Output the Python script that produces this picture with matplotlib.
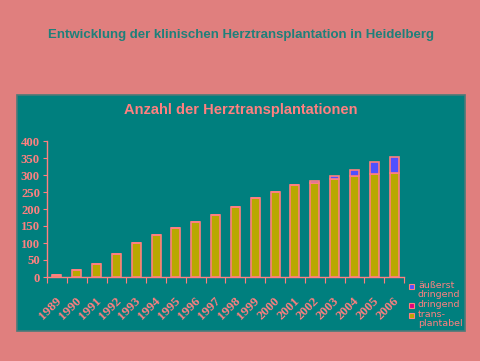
import matplotlib
matplotlib.use("Agg")
import matplotlib.pyplot as plt
from matplotlib.patches import Rectangle
import numpy as np

years = ["1989", "1990", "1991", "1992", "1993", "1994", "1995", "1996", "1997",
         "1998", "1999", "2000", "2001", "2002", "2003", "2004", "2005", "2006"]
transplantabel = [5, 20, 37, 67, 99, 123, 143, 161, 181,
                  205, 231, 249, 270, 276, 287, 296, 304, 307]
dringend = [0, 0, 0, 0, 0, 0, 0, 0, 0,
            0, 0, 0, 0, 0, 0, 0, 0, 0]
aeusserst = [0, 0, 0, 0, 0, 0, 0, 0, 0,
             0, 0, 0, 0, 5, 9, 18, 33, 45]
yticks = [0, 50, 100, 150, 200, 250, 300, 350, 400]
legend_labels = ["äußerst\ndringend", "dringend", "trans-\nplantabel"]

BG = "#e07f7e"
TEAL = "#007f7e"
SALMON = "#ff8080"
OLIVE = "#b8a800"
BLUE = "#5050ff"
MAGENTA = "#e0007f"

W, H = 480, 361
fig = plt.figure(figsize=(4.8, 3.61), dpi=100, facecolor=BG)

# teal panel
fig.patches.append(Rectangle((17 / W, 1 - 331 / H), 448 / W, 236 / H,
                             transform=fig.transFigure, facecolor=TEAL,
                             edgecolor="#4a7a78", linewidth=1.2, zorder=-5))

fig.text(241 / W, 1 - 35 / H, "Entwicklung der klinischen Herztransplantation in Heidelberg",
         ha="center", va="center", color="#1f807a", fontsize=9.5,
         fontweight="bold", family="Liberation Sans")
fig.text(241 / W, 1 - 110 / H, "Anzahl der Herztransplantationen",
         ha="center", va="center", color=SALMON, fontsize=10.5,
         fontweight="bold", family="Liberation Sans")

ax = fig.add_axes([47 / W, 1 - 277 / H, 357 / W, 136 / H])
ax.set_zorder(2)
ax.set_facecolor("none")
x = np.arange(len(years))
t = np.array(transplantabel)
d = np.array(dringend)
a = np.array(aeusserst)
bw = 0.45
ax.bar(x, t, width=bw, color=OLIVE, edgecolor=SALMON, linewidth=1.2)
ax.bar(x, d, width=bw, bottom=t, color=MAGENTA, edgecolor=SALMON, linewidth=1.2)
ax.bar(x, a, width=bw, bottom=t + d, color=BLUE, edgecolor=SALMON, linewidth=1.2)

ax.set_xlim(-0.5, len(years) - 0.5)
ax.set_ylim(0, 400)
for s in ["top", "right"]:
    ax.spines[s].set_visible(False)
for s in ["left", "bottom"]:
    ax.spines[s].set_color(SALMON)
    ax.spines[s].set_linewidth(1.0)

ax.set_yticks(yticks)
ax.set_yticklabels([str(v) for v in yticks], color=SALMON, fontsize=9.2,
                   fontweight="bold", family="Liberation Serif")
ax.tick_params(axis="y", direction="out", length=3, color=SALMON, pad=2)

ax.set_xticks(np.arange(len(years) + 1) - 0.5, minor=False)
ax.set_xticklabels([])
ax.tick_params(axis="x", direction="out", length=4, color=SALMON)
for i, yr in enumerate(years):
    ax.annotate(yr, xy=(i, 0), xycoords=("data", "data"),
                xytext=(-1, -13), textcoords="offset points",
                ha="right", va="top", rotation=45, rotation_mode="anchor",
                color=SALMON, fontsize=9.5, fontweight="bold",
                family="Liberation Serif", annotation_clip=False)

# legend
leg_items = [(286, BLUE, legend_labels[0]), (305, MAGENTA, legend_labels[1]),
             (315, OLIVE, legend_labels[2])]
for yy, col, lab in leg_items:
    fig.patches.append(Rectangle((409 / W, 1 - (yy + 2.5) / H), 5 / W, 5 / H,
                                 transform=fig.transFigure, facecolor=col,
                                 edgecolor=SALMON, linewidth=0.8, zorder=3))
    fig.text(418 / W, 1 - (yy - 5) / H, lab, ha="left", va="top", color=SALMON,
             fontsize=6.8, family="DejaVu Sans", linespacing=1.05)

fig.savefig("out.png", dpi=100, facecolor=BG)
